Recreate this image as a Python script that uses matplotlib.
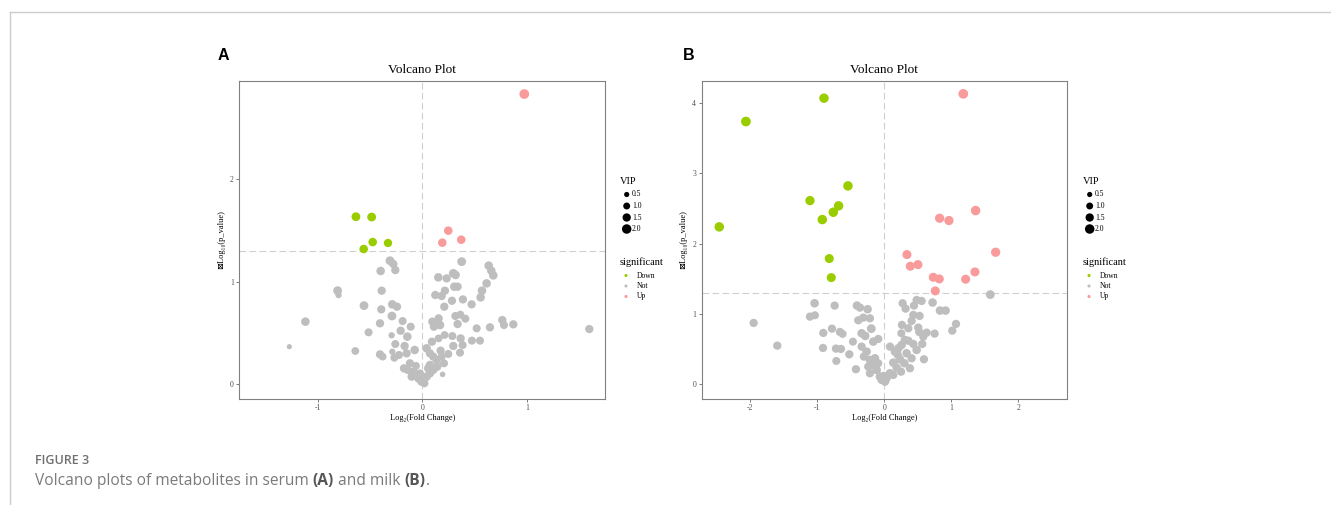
import numpy as np
import matplotlib
matplotlib.use('Agg')
import matplotlib.pyplot as plt

# ---- panel A (serum): log2 fold change, -log10(p), VIP ----
fc_a = [0.974, 0.248, 0.191, 0.372,
        -0.634, -0.484, -0.474, -0.328, -0.560,
        -1.117, -1.270, -0.809, -0.800, -0.640, -0.557, -0.513, -0.398, -0.388, -0.392,
        -0.404, -0.404, -0.379, -0.309, -0.277, -0.258, -0.287, -0.242, -0.290, -0.293,
        -0.258, -0.287, -0.267, -0.188, -0.111, -0.207, -0.143, -0.169, -0.150, -0.073,
        -0.223, -0.175, -0.118, -0.086, -0.054, -0.038, -0.006, 0.010, 0.041, 0.073,
        -0.022, -0.102, -0.140, -0.060, 0.020,
        0.376, 0.634, 0.659, 0.678, 0.296, 0.318, 0.232, 0.153, 0.306, 0.337,
        0.216, 0.185, 0.124, 0.614, 0.570, 0.557, 0.471, 0.388, 0.283, 0.210,
        0.315, 0.363, 0.411, 0.337, 0.764, 0.780, 0.869, 0.646, 0.519, 1.595,
        0.474, 0.551, 0.366, 0.287, 0.213, 0.156, 0.096, 0.156, 0.111, 0.169,
        0.140, 0.385, 0.296, 0.360, 0.175, 0.248, 0.194, 0.092, 0.041, 0.073,
        0.105, 0.137, 0.207, 0.143, 0.073, 0.105, 0.057, 0.185]
logp_a = [2.830, 1.498, 1.381, 1.410,
          1.634, 1.631, 1.387, 1.378, 1.319,
          0.611, 0.367, 0.913, 0.870, 0.325, 0.767, 0.507, 1.105, 0.913, 0.731,
          0.595, 0.292, 0.270, 1.205, 1.173, 1.114, 0.780, 0.757, 0.666, 0.478,
          0.393, 0.318, 0.260, 0.617, 0.562, 0.523, 0.465, 0.374, 0.302, 0.335,
          0.286, 0.156, 0.205, 0.123, 0.091, 0.058, 0.026, 0.042, 0.075, 0.107,
          0.107, 0.075, 0.140, 0.180, 0.010,
          1.196, 1.157, 1.108, 1.062, 1.082, 1.066, 1.033, 1.043, 0.952, 0.952,
          0.913, 0.861, 0.871, 0.984, 0.913, 0.848, 0.780, 0.828, 0.815, 0.757,
          0.666, 0.679, 0.640, 0.588, 0.627, 0.578, 0.585, 0.556, 0.546, 0.539,
          0.426, 0.426, 0.448, 0.471, 0.481, 0.448, 0.611, 0.643, 0.562, 0.578,
          0.595, 0.383, 0.374, 0.309, 0.328, 0.296, 0.097, 0.416, 0.351, 0.302,
          0.270, 0.237, 0.205, 0.172, 0.188, 0.140, 0.156, 0.270]
vip_a = [2.1, 1.6, 1.6, 1.6,
         1.7, 1.7, 1.6, 1.5, 1.6,
         1.6, 0.5, 1.7, 0.8, 1.3, 1.7, 1.4, 1.6, 1.5, 1.5,
         1.5, 1.5, 1.3, 1.7, 1.5, 1.5, 1.6, 1.5, 1.7, 0.8,
         1.4, 0.8, 1.4, 1.4, 1.4, 1.5, 1.6, 1.5, 1.5, 1.6,
         1.4, 1.5, 1.5, 1.6, 1.6, 1.5, 1.6, 1.5, 1.6, 1.5,
         1.4, 1.5, 1.4, 1.3, 1.4,
         1.7, 1.6, 1.6, 1.6, 1.7, 1.6, 1.5, 1.6, 1.6, 1.5,
         1.5, 1.5, 1.5, 1.6, 1.6, 1.6, 1.5, 1.5, 1.5, 1.5,
         1.4, 1.4, 1.4, 1.5, 1.5, 1.4, 1.5, 1.5, 1.4, 1.5,
         1.4, 1.4, 1.5, 1.4, 1.3, 1.3, 1.5, 1.5, 1.5, 1.6,
         1.5, 1.4, 1.5, 1.4, 1.5, 1.4, 0.6, 1.5, 1.6, 1.5,
         1.5, 1.5, 1.4, 1.5, 1.6, 1.5, 1.6, 1.4]

# ---- panel B (milk) ----
fc_b = [-0.900, -2.065, -0.542, -1.109, -0.682, -0.761, -0.925, -2.463, -0.821, -0.791,
        1.179, 1.363, 0.826, 0.965, 1.662, 0.338, 0.388, 0.502, 1.353, 1.214,
        0.731, 0.821, 0.761,
        1.582, -1.950, -1.597, -1.040, -1.109, -1.035, -0.741, -0.910, -0.781, -0.662,
        -0.622, -0.915, -0.721, -0.647, -0.716, -0.522, -0.468, -0.423, -0.408, -0.363,
        -0.249, -0.388, -0.313, -0.214, -0.194, -0.338, -0.284, -0.090, -0.164, -0.338,
        -0.264, -0.304, -0.214, -0.139, -0.164, -0.239, -0.214, -0.114, -0.065, -0.040,
        0.010, -0.010, -0.090,
        0.274, 0.318, 0.483, 0.557, 0.443, 0.721, 0.831, 0.915, 0.433, 0.527,
        0.408, 0.264, 0.358, 0.507, 0.522, 0.632, 0.751, 1.070, 1.015, 0.254,
        0.308, 0.582, 0.567, 0.483, 0.433, 0.592, 0.383, 0.085, 0.159, 0.209,
        0.259, 0.333, 0.408, 0.234, 0.134, 0.184, 0.085, 0.134, 0.035, 0.300,
        0.250, 0.200, 0.360]
logp_b = [4.071, 3.739, 2.823, 2.614, 2.539, 2.448, 2.344, 2.240, 1.789, 1.518,
          4.133, 2.472, 2.363, 2.330, 1.879, 1.846, 1.680, 1.703, 1.599, 1.495,
          1.523, 1.499, 1.329,
          1.276, 0.873, 0.550, 1.153, 0.963, 0.982, 1.120, 0.731, 0.792, 0.745,
          0.717, 0.517, 0.508, 0.503, 0.332, 0.427, 0.607, 0.214, 1.120, 1.091,
          1.068, 0.911, 0.949, 0.939, 0.792, 0.726, 0.688, 0.645, 0.607, 0.536,
          0.465, 0.394, 0.346, 0.370, 0.275, 0.251, 0.157, 0.204, 0.109, 0.062,
          0.038, 0.120, 0.300,
          1.153, 1.077, 1.200, 1.186, 1.120, 1.163, 1.049, 1.049, 0.987, 0.973,
          0.902, 0.845, 0.797, 0.807, 0.745, 0.735, 0.721, 0.859, 0.764, 0.726,
          0.631, 0.679, 0.574, 0.489, 0.574, 0.356, 0.228, 0.536, 0.465, 0.512,
          0.560, 0.441, 0.370, 0.356, 0.308, 0.237, 0.157, 0.133, 0.085, 0.300,
          0.180, 0.420, 0.620]
vip_b = [2.0, 2.1, 2.0, 1.9, 2.0, 2.0, 2.0, 2.0, 1.8, 1.8,
         2.1, 2.0, 1.9, 1.9, 1.9, 1.8, 1.8, 1.8, 1.8, 1.8,
         1.8, 1.8, 1.8,
         1.7, 1.5, 1.5, 1.6, 1.5, 1.4, 1.5, 1.5, 1.5, 1.5,
         1.4, 1.5, 1.5, 1.5, 1.4, 1.5, 1.4, 1.5, 1.6, 1.5,
         1.6, 1.5, 1.5, 1.5, 1.7, 1.6, 1.6, 1.5, 1.6, 1.5,
         1.6, 1.5, 1.6, 1.6, 1.6, 1.5, 1.5, 1.6, 1.6, 1.5,
         1.6, 1.5, 1.4,
         1.5, 1.5, 1.5, 1.5, 1.5, 1.6, 1.6, 1.6, 1.5, 1.5,
         1.5, 1.5, 1.5, 1.5, 1.5, 1.5, 1.5, 1.5, 1.5, 1.4,
         1.6, 1.5, 1.5, 1.6, 1.5, 1.5, 1.5, 1.5, 1.6, 1.6,
         1.6, 1.6, 1.5, 1.6, 1.6, 1.6, 1.6, 1.5, 1.5, 1.6,
         1.5, 1.5, 1.5]

vip_levels = [0.5, 1.0, 1.5, 2.0]
groups = ['Down', 'Not', 'Up']
group_colors = {'Down': '#9acd00', 'Not': '#bebebe', 'Up': '#f99a9b'}
p_cut = -np.log10(0.05)

SERIF = ['Liberation Serif', 'DejaVu Serif', 'DejaVu Sans']


def vip_to_s(v):
    # area grows linearly with VIP, like ggplot's scale_size
    d_px = np.sqrt(6 + 42 * np.asarray(v, dtype=float))
    return (d_px * 0.72) ** 2


def classify(fc, lp):
    fc = np.asarray(fc)
    lp = np.asarray(lp)
    g = np.full(fc.shape, 'Not', dtype=object)
    g[(lp > p_cut) & (fc > 0)] = 'Up'
    g[(lp > p_cut) & (fc < 0)] = 'Down'
    return g


def volcano(ax, fc, lp, vip, xlim, ylim, xticks, yticks):
    g = classify(fc, lp)
    cols = [group_colors[k] for k in g]
    ax.scatter(fc, lp, s=vip_to_s(vip), c=cols, linewidths=0, zorder=3)
    ax.axvline(0, color='#cfcfcf', lw=0.8, ls=(0, (6, 3)), zorder=1)
    ax.axhline(p_cut, color='#cfcfcf', lw=0.8, ls=(0, (6, 3)), zorder=1)
    ax.set_xlim(xlim)
    ax.set_ylim(ylim)
    ax.set_xticks(xticks)
    ax.set_yticks(yticks)
    ax.set_xticklabels([f'{t:g}' for t in xticks], family=SERIF)
    ax.set_yticklabels([f'{t:g}' for t in yticks], family=SERIF)
    for sp in ax.spines.values():
        sp.set_color('#808080')
        sp.set_linewidth(0.8)
    ax.tick_params(length=2.5, width=0.6, color='#666666', labelsize=5.5,
                   labelcolor='#4d4d4d', pad=1.5)


fig = plt.figure(figsize=(13.31, 5.05), dpi=100)

ax_a = fig.add_axes([239.3 / 1331, 1 - 398.7 / 505, 365.7 / 1331, 318 / 505])
volcano(ax_a, fc_a, logp_a, vip_a, (-1.748, 1.745), (-0.14, 2.96), [-1, 0, 1], [0, 1, 2])

ax_b = fig.add_axes([701.7 / 1331, 1 - 398.7 / 505, 365.3 / 1331, 318 / 505])
volcano(ax_b, fc_b, logp_b, vip_b, (-2.725, 2.727), (-0.205, 4.32), [-2, -1, 0, 1, 2], [0, 1, 2, 3, 4])

# overlay in pixel coordinates for titles, legends and caption
ov = fig.add_axes([0, 0, 1, 1], zorder=-1)
ov.set_xlim(0, 1331)
ov.set_ylim(505, 0)
ov.axis('off')

ov.plot([9.5, 1331], [11.5, 11.5], color='#cccccc', lw=1.0)
ov.plot([9.5, 9.5], [11.5, 505], color='#cccccc', lw=1.0)

for letter, lx, cx, ylx, legx in [('A', 223, 422.2, 220.7, 620), ('B', 688.7, 884.4, 683.3, 1083)]:
    ov.text(lx, 55, letter, fontsize=11.5, fontweight='bold', family='Liberation Sans',
            ha='center', va='center')
    ov.text(cx, 73, 'Volcano Plot', fontsize=9.5, family=SERIF, ha='center', va='baseline')
    ov.text(cx, 417.5, 'Log₂(Fold Change)', fontsize=6, family=SERIF, ha='center', va='center')
    ov.text(ylx, 239.5, '⊠Log₁₀(p_value)', fontsize=6, family=SERIF, ha='center',
            va='center', rotation=90)

    # VIP size legend
    ov.text(legx, 181.5, 'VIP', fontsize=7.5, family=SERIF, ha='left', va='center')
    vip_y = [194.5, 206, 217.5, 229]
    ov.scatter([legx + 6.7] * len(vip_levels), vip_y, s=vip_to_s(vip_levels), c='black',
               linewidths=0)
    for v, yy in zip(vip_levels, vip_y):
        ov.text(legx + 12, yy, f'{v:.1f}', fontsize=5.5, family=SERIF, ha='left', va='center')

    # colour legend
    ov.text(legx, 262, 'significant', fontsize=7.5, family=SERIF, ha='left', va='center')
    sig_y = [275.5, 286, 296.5]
    ov.scatter([legx + 6] * len(groups), sig_y, s=5, c=[group_colors[k] for k in groups],
               linewidths=0)
    for k, yy in zip(groups, sig_y):
        ov.text(legx + 16.5, yy, k, fontsize=5.5, family=SERIF, ha='left', va='center')

# caption
cap_font = ['Open Sans', 'DejaVu Sans']
ov.text(35, 460.5, 'FIGURE 3', fontsize=9, family=cap_font, fontweight='semibold',
        color='#6f6f6f', ha='left', va='center')

fig.canvas.draw()
renderer = fig.canvas.get_renderer()
pieces = [('Volcano plots of metabolites in serum ', 'normal', '#7a7a7a'),
          ('(A)', 'bold', '#555555'),
          (' and milk ', 'normal', '#7a7a7a'),
          ('(B)', 'bold', '#555555'),
          ('.', 'normal', '#7a7a7a')]
x = 35
for txt, w, col in pieces:
    t = ov.text(x, 481, txt, fontsize=11.2, family=cap_font, fontweight=w, color=col,
                ha='left', va='center')
    bb = t.get_window_extent(renderer)
    x += bb.width

fig.savefig('out.png', dpi=100)
